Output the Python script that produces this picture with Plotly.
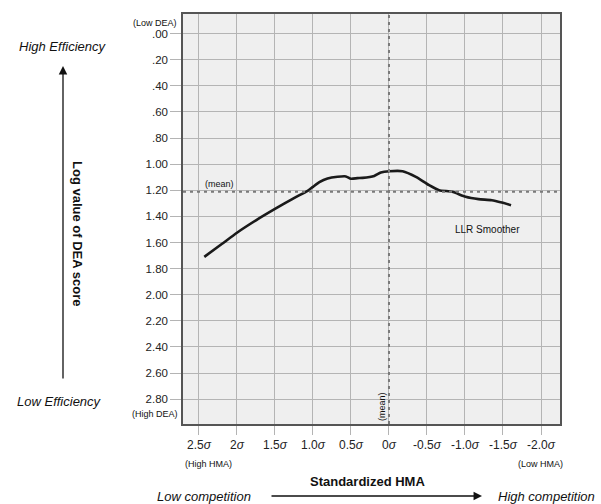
import plotly.graph_objects as go

# ---- data ----
sigma = [2.43, 2.20, 2.00, 1.75, 1.50, 1.244, 1.07, 1.00, 0.916, 0.808, 0.677, 0.567,
         0.50, 0.415, 0.347, 0.194, 0.107, -0.005, -0.179, -0.354, -0.528, -0.659,
         -0.833, -1.008, -1.178, -1.352, -1.484, -1.606]
log_dea = [1.710, 1.612, 1.525, 1.430, 1.343, 1.258, 1.204, 1.174, 1.138, 1.110, 1.097, 1.094,
           1.112, 1.107, 1.105, 1.090, 1.064, 1.054, 1.054, 1.097, 1.161, 1.199,
           1.212, 1.250, 1.268, 1.276, 1.294, 1.314]
mean_y = 1.212
mean_x = 0.0

x_tickvals = [2.5, 2.0, 1.5, 1.0, 0.5, 0.0, -0.5, -1.0, -1.5, -2.0]
x_ticklabels = ["2.5", "2", "1.5", "1.0", "0.5", "0", "-0.5", "-1.0", "-1.5", "-2.0"]
y_tickvals = [0.0, 0.2, 0.4, 0.6, 0.8, 1.0, 1.2, 1.4, 1.6, 1.8, 2.0, 2.2, 2.4, 2.6, 2.8]
y_ticklabels = [".00", ".20", ".40", ".60", ".80", "1.00", "1.20", "1.40", "1.60", "1.80",
                "2.00", "2.20", "2.40", "2.60", "2.80"]

FONT = "Arial, Liberation Sans, sans-serif"
W, H = 601, 504
L, R, T, B = 183, 41, 14, 80
PW, PH = W - L - R, H - T - B


def px(x):
    return (x - L) / PW


def py(y):
    return (H - B - y) / PH


fig = go.Figure()
fig.add_trace(go.Scatter(x=sigma, y=log_dea, mode="lines",
                         line=dict(color="#1a1a1a", width=2.6, shape="spline", smoothing=0.6),
                         showlegend=False, hoverinfo="skip"))

fig.add_hline(y=mean_y, line=dict(color="#7a7a7a", width=2, dash="3px,4px"))
fig.add_vline(x=mean_x, line=dict(color="#7a7a7a", width=2, dash="3px,4px"))

grid = "#b4b4b4"
fig.update_xaxes(range=[2.71, -2.25], tickvals=x_tickvals,
                 ticktext=[t + "<i>σ</i>" for t in x_ticklabels],
                 showgrid=True, gridcolor=grid, gridwidth=1,
                 ticks="outside", ticklen=9, tickcolor=grid, tickwidth=1,
                 showline=True, linecolor="#555555", linewidth=1.5, mirror=True,
                 zeroline=False, tickfont=dict(family=FONT, size=12, color="#222"))
fig.update_yaxes(range=[2.99, -0.15], tickvals=y_tickvals, ticktext=y_ticklabels,
                 showgrid=True, gridcolor=grid, gridwidth=1,
                 ticks="outside", ticklen=11, tickcolor=grid, tickwidth=1,
                 showline=True, linecolor="#555555", linewidth=1.5, mirror=True,
                 zeroline=False, tickfont=dict(family=FONT, size=11.5, color="#222"))

ann = []


def text(x, y, s, size=11, italic=False, bold=False, angle=0, xanchor="center"):
    if bold:
        s = "<b>" + s + "</b>"
    if italic:
        s = "<i>" + s + "</i>"
    ann.append(dict(x=px(x), y=py(y), xref="paper", yref="paper", text=s, showarrow=False,
                    textangle=angle, xanchor=xanchor, yanchor="middle",
                    font=dict(family=FONT, size=size, color="#111")))


text(155, 23, "(Low DEA)", size=9)
text(155, 414, "(High DEA)", size=9)
text(208, 464, "(High HMA)", size=9)
text(540, 464, "(Low HMA)", size=9)
text(203, 184, "(mean)", size=9, xanchor="left")
text(382, 407, "(mean)", size=9, angle=-90)
text(487, 229, "LLR Smoother", size=10)
text(62, 47, "High Efficiency", size=13, italic=True)
text(60, 401, "Low Efficiency", size=13, italic=True)
text(78, 233, "Log value of DEA score", size=13, bold=True, angle=90)
text(367, 482, "Standardized HMA", size=13, bold=True)
text(204, 496, "Low competition", size=13, italic=True)
text(546, 496, "High competition", size=13, italic=True)

# arrows
ann.append(dict(x=px(63), y=py(66), xref="paper", yref="paper", ax=0, ay=314,
                showarrow=True, arrowhead=2, arrowsize=1.3, arrowwidth=1.3,
                arrowcolor="#111", text=""))
ann.append(dict(x=px(482), y=py(496), xref="paper", yref="paper", ax=-212, ay=0,
                showarrow=True, arrowhead=2, arrowsize=1.3, arrowwidth=1.3,
                arrowcolor="#111", text=""))

fig.update_layout(width=W, height=H, margin=dict(l=L, r=R, t=T, b=B, pad=0),
                  paper_bgcolor="white", plot_bgcolor="#efefef",
                  annotations=ann, font=dict(family=FONT))
fig.write_html("out.html", config={"displayModeBar": False},
               post_script="document.body.style.margin='0px';document.body.style.overflow='hidden';")
